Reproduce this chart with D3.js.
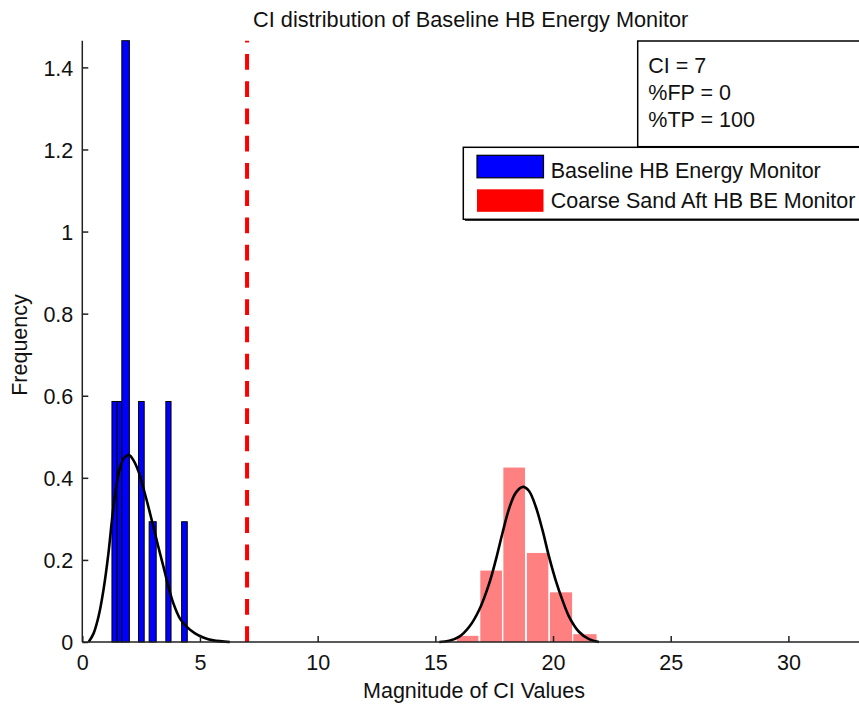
<!DOCTYPE html>
<html>
<head>
<meta charset="utf-8">
<script src="https://cdn.jsdelivr.net/npm/d3@7"></script>
<style>
  html, body { margin: 0; padding: 0; background: #fff; }
  svg { display: block; font-family: "Liberation Sans", Arial, sans-serif; }
</style>
</head>
<body>
<svg id="chart" width="859" height="707"></svg>
<script>
// ---- data ----
const titleText = "CI distribution of Baseline HB Energy Monitor";
const xLabel = "Magnitude of CI Values";
const yLabel = "Frequency";
const seriesNames = ["Baseline HB Energy Monitor", "Coarse Sand Aft HB BE Monitor"];
const statsLines = ["CI = 7", "%FP = 0", "%TP = 100"];
const ciThreshold = 7;

const xTicks = [0, 5, 10, 15, 20, 25, 30];
const yTicks = [0, 0.2, 0.4, 0.6, 0.8, 1, 1.2, 1.4];
const xDomain = [0, 33];
const yDomain = [0, 1.465];

// baseline histogram (bin edges & normalized frequency)
const blueLeft    = [1.26, 1.47, 1.68, 2.39, 2.84, 3.55, 4.22];
const blueRight   = [1.47, 1.68, 2.00, 2.63, 3.14, 3.77, 4.46];
const blueDensity = [0.586, 0.586, 1.465, 0.586, 0.293, 0.586, 0.293];

// coarse sand histogram
const redLeft    = [15.92, 16.91, 17.89, 18.89, 19.87, 20.86];
const redRight   = [16.83, 17.83, 18.81, 19.80, 20.81, 21.85];
const redDensity = [0.015, 0.174, 0.425, 0.217, 0.121, 0.019];

// fitted curves
const blueFitX = [0.27, 0.48, 0.69, 0.90, 1.11, 1.26, 1.40, 1.61, 1.82, 2.00, 2.17, 2.39, 2.60, 2.81, 3.02, 3.23, 3.45, 3.66, 3.87, 4.15, 4.44, 4.79, 5.14, 5.56, 6.27];
const blueFitY = [0.0, 0.021, 0.062, 0.127, 0.216, 0.297, 0.362, 0.427, 0.451, 0.455, 0.443, 0.415, 0.374, 0.329, 0.281, 0.232, 0.183, 0.135, 0.094, 0.057, 0.037, 0.021, 0.011, 0.004, 0.0];

const redFitX = [15.17, 15.59, 16.02, 16.44, 16.86, 17.29, 17.57, 17.85, 18.14, 18.42, 18.73, 18.98, 19.27, 19.55, 19.83, 20.11, 20.40, 20.68, 21.10, 21.53, 21.95];
const redFitY = [0.0, 0.003, 0.013, 0.037, 0.078, 0.143, 0.200, 0.265, 0.326, 0.364, 0.378, 0.368, 0.329, 0.273, 0.208, 0.151, 0.102, 0.062, 0.025, 0.007, 0.0];

// ---- drawing ----
const svg = d3.select("#chart");
const FONT = 21.5;
const axisColor = "#222";

const x = d3.scaleLinear().domain(xDomain).range([82.3, 859]);
const y = d3.scaleLinear().domain(yDomain).range([642, 40.7]);

// blue bars
const blueBins = blueLeft.map((l, i) => ({x0: l, x1: blueRight[i], v: blueDensity[i]}));
svg.append("g").selectAll("rect").data(blueBins).join("rect")
  .attr("x", d => x(d.x0))
  .attr("y", d => y(d.v))
  .attr("width", d => x(d.x1) - x(d.x0))
  .attr("height", d => y(0) - y(d.v))
  .attr("fill", "#0000ff")
  .attr("stroke", "#000")
  .attr("stroke-width", 1);

// red bars (semi-transparent red with white edges)
const redBins = redLeft.map((l, i) => ({x0: l, x1: redRight[i], v: redDensity[i]}));
svg.append("g").selectAll("rect").data(redBins).join("rect")
  .attr("x", d => x(d.x0))
  .attr("y", d => y(d.v))
  .attr("width", d => x(d.x1) - x(d.x0))
  .attr("height", d => y(0) - y(d.v))
  .attr("fill", "#ff8080");

// fitted curves
const line = d3.line().x(d => x(d[0])).y(d => y(d[1])).curve(d3.curveCatmullRom);
svg.append("path")
  .datum(blueFitX.map((v, i) => [v, blueFitY[i]]))
  .attr("d", line).attr("fill", "none").attr("stroke", "#000").attr("stroke-width", 2.6);
svg.append("path")
  .datum(redFitX.map((v, i) => [v, redFitY[i]]))
  .attr("d", line).attr("fill", "none").attr("stroke", "#000").attr("stroke-width", 2.6);

// threshold dashed line (drawn from bottom to top)
svg.append("path")
  .attr("d", d3.line()([[x(ciThreshold), y(0)], [x(ciThreshold), y(yDomain[1])]]))
  .attr("stroke", "#ff0000").attr("stroke-width", 4)
  .attr("stroke-dasharray", "15.7,11.55").attr("fill", "none");

// axes
const xAxis = svg.append("g").attr("transform", `translate(0,${y(0)})`)
  .call(d3.axisBottom(x).tickValues(xTicks).tickSize(-6).tickPadding(11).tickFormat(d3.format("d")));
const yAxis = svg.append("g").attr("transform", `translate(${x(0)},0)`)
  .call(d3.axisLeft(y).tickValues(yTicks).tickSize(-6).tickPadding(9).tickFormat(d => d3.format("")(+d.toFixed(1))));
[xAxis, yAxis].forEach(g => {
  g.select(".domain").attr("stroke", axisColor).attr("stroke-width", 1.5);
  g.selectAll(".tick line").attr("stroke", axisColor).attr("stroke-width", 1.5);
  g.selectAll(".tick text").attr("fill", "#111").attr("font-size", FONT).attr("font-family", "Liberation Sans, Arial, sans-serif");
});
xAxis.select(".domain").attr("d", `M${x(0)},0H${x(xDomain[1])}`);
yAxis.select(".domain").attr("d", `M0,${y(0)}V${y(yDomain[1])}`);
xAxis.selectAll(".tick text").attr("dy", null).attr("y", 0).attr("transform", "translate(0,28)");
yAxis.selectAll(".tick text").attr("dy", "0.36em");

// title and labels
svg.append("text").attr("x", 470.7).attr("y", 26.5).attr("text-anchor", "middle")
  .attr("font-size", FONT + 0.2).attr("fill", "#111").text(titleText);
svg.append("text").attr("x", 474).attr("y", 698).attr("text-anchor", "middle")
  .attr("font-size", FONT).attr("fill", "#111").text(xLabel);
svg.append("text").attr("transform", "translate(27,345) rotate(-90)").attr("text-anchor", "middle")
  .attr("font-size", FONT).attr("fill", "#111").text(yLabel);

// stats text box
const sb = svg.append("g");
sb.append("rect").attr("x", 637.7).attr("y", 41).attr("width", 260).attr("height", 105.7)
  .attr("fill", "#fff").attr("stroke", "#000").attr("stroke-width", 1.5);
sb.selectAll("text").data(statsLines).join("text")
  .attr("x", 648.3).attr("y", (d, i) => 73.3 + i * 27)
  .attr("font-size", FONT).attr("fill", "#111").text(d => d);

// legend
const lg = svg.append("g");
lg.append("rect").attr("x", 465).attr("y", 149.5).attr("width", 420).attr("height", 71.5)
  .attr("fill", "#333");
lg.append("rect").attr("x", 463.3).attr("y", 147.3).attr("width", 420).attr("height", 72)
  .attr("fill", "#fff").attr("stroke", "#000").attr("stroke-width", 1.5);
const legColors = [{fill: "#0000ff", stroke: "#000"}, {fill: "#ff0000", stroke: "none"}];
const legPatchY = [155.3, 189.3];
const legTextY = [178.3, 208.3];
seriesNames.forEach((name, i) => {
  lg.append("rect").attr("x", 477).attr("y", legPatchY[i]).attr("width", 66.5).attr("height", 22.5)
    .attr("fill", legColors[i].fill).attr("stroke", legColors[i].stroke).attr("stroke-width", 1.2);
  lg.append("text").attr("x", 550.7).attr("y", legTextY[i])
    .attr("font-size", FONT).attr("fill", "#111").text(name);
});
</script>
</body>
</html>
